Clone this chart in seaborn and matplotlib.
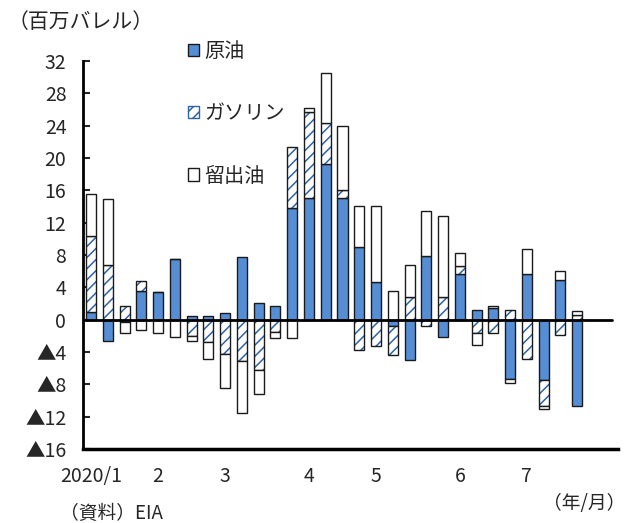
import numpy as np
import matplotlib
matplotlib.use('Agg')
import matplotlib.pyplot as plt
import seaborn as sns
from matplotlib.patches import Patch

# 週次の在庫変化（百万バレル）、2020/1～
crude = [1.0, -2.6, -0.3, 3.6, 3.4, 7.5, 0.4, 0.5, 0.8, 7.7, 2.0, 1.65, 13.8, 15.1, 19.3,
         15.0, 9.0, 4.6, -0.75, -5.0, 7.9, -2.1, 5.7, 1.2, 1.4, -7.3, 5.6, -7.5, 4.9, -10.7]
gasoline = [9.4, 6.7, 1.7, 1.2, 0.0, 0.0, -2.0, -2.75, -4.3, -5.1, -6.25, -1.56, 7.6, 10.6, 5.0,
            1.0, -3.7, -3.2, -3.6, 2.8, -0.75, 2.8, 0.9, -1.65, -1.7, 1.15, -4.9, -3.2, -1.85, 0.6]
distillate = [5.2, 8.2, -1.3, -1.3, -1.6, -2.1, -0.65, -2.1, -4.1, -6.45, -2.9, -0.7, -2.26, 0.5, 6.2,
              8.0, 5.1, 9.5, 3.5, 3.9, 5.6, 10.0, 1.6, -1.45, 0.25, -0.5, 3.2, -0.4, 1.1, 0.5]
month_pos = [0, 4, 8, 13, 17, 22, 26]
month_labels = ['2020/1', '2', '3', '4', '5', '6', '7']
yticks = list(range(-16, 33, 4))

blue = '#558ed5'
hatch_blue = '#2f63a8'

sns.set_style('white')
plt.rcParams['font.family'] = ['Noto Sans CJK JP', 'DejaVu Sans']
plt.rcParams['hatch.linewidth'] = 1.1

idx = np.arange(len(crude))

# 積み上げの起点を計算（正は上へ、負は下へ）
series = [np.array(crude), np.array(gasoline), np.array(distillate)]
bottoms = []
pos_acc = np.zeros(len(idx))
neg_acc = np.zeros(len(idx))
for s in series:
    b = np.where(s >= 0, pos_acc, neg_acc)
    bottoms.append(b)
    pos_acc = pos_acc + np.where(s >= 0, s, 0)
    neg_acc = neg_acc + np.where(s < 0, s, 0)

fig = plt.figure(figsize=(6.29, 5.23), dpi=100)
ax = fig.add_axes([0.132, 0.1415, 0.8506, 0.7419])

w = 0.6
sns.barplot(x=idx, y=series[0], bottom=bottoms[0], color=blue, saturation=1, width=w,
            errorbar=None, edgecolor='#1a1a1a', linewidth=1.0, ax=ax)
# ガソリン：斜線（青）→ 黒枠
sns.barplot(x=idx, y=series[1], bottom=bottoms[1], color='white', saturation=1, width=w,
            errorbar=None, edgecolor=hatch_blue, linewidth=0, hatch='///', ax=ax)
ax.bar(idx, series[1], bottom=bottoms[1], width=w, facecolor='none', edgecolor='#1a1a1a', linewidth=1.0)
sns.barplot(x=idx, y=series[2], bottom=bottoms[2], color='white', saturation=1, width=w,
            errorbar=None, edgecolor='#1a1a1a', linewidth=1.0, ax=ax)

ax.axhline(0, xmin=0, xmax=0.989, color='black', linewidth=2, zorder=5)

ax.set_xlim(-0.48, 31.44)
ax.set_ylim(-16, 32)
ax.set_yticks(yticks)
ax.set_yticklabels([str(v) if v >= 0 else '▲' + str(-v) for v in yticks])
ax.set_xticks(month_pos)
ax.set_xticklabels(month_labels)
ax.set_xlabel('')
ax.set_ylabel('')
ax.tick_params(axis='y', direction='in', length=5, width=1.5, pad=12, labelsize=14, left=True)
ax.tick_params(axis='x', length=0, pad=12, labelsize=14)

for side in ['top', 'right']:
    ax.spines[side].set_visible(False)
ax.spines['left'].set_linewidth(2)
ax.spines['bottom'].set_linewidth(2.5)
ax.spines['left'].set_color('black')
ax.spines['bottom'].set_color('black')

handles = [Patch(facecolor=blue, edgecolor='#1a1a1a', label='原油'),
           Patch(facecolor='white', edgecolor=hatch_blue, hatch='///', label='ガソリン'),
           Patch(facecolor='white', edgecolor='#1a1a1a', label='留出油')]
ax.legend(handles=handles, loc='upper left', bbox_to_anchor=(0.299, 1 - 41 / 523),
          bbox_transform=fig.transFigure, frameon=False, fontsize=14.5,
          handlelength=0.55, handleheight=0.55, handletextpad=0.25,
          labelspacing=2.05, borderpad=0, borderaxespad=0)

fig.text(0.012, 1 - 22 / 523, '（百万バレル）', fontsize=15, va='center', ha='left')
fig.text(0.095, 1 - 513 / 523, '（資料）EIA', fontsize=13.5, va='center', ha='left')
fig.text(0.995, 1 - 503 / 523, '（年/月）', fontsize=13.5, va='center', ha='right')

fig.savefig('out.png', dpi=100)
